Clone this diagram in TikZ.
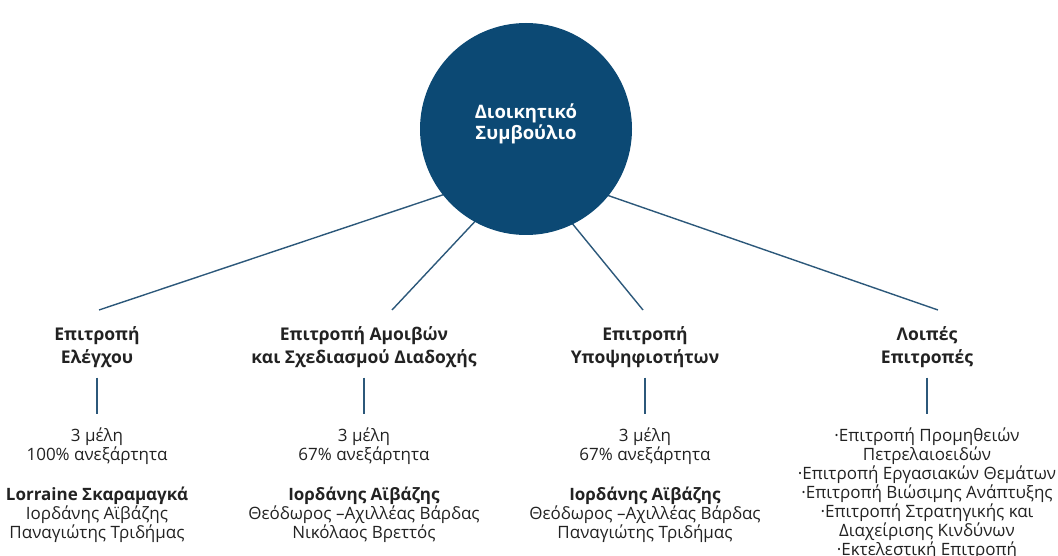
\documentclass[tikz,border=0pt]{standalone}
\usepackage{fontspec}
\setmainfont{Open Sans}
\usetikzlibrary{positioning}
\usetikzlibrary{backgrounds}
\definecolor{boardblue}{RGB}{12,73,116}
\definecolor{linkblue}{RGB}{44,88,122}
\definecolor{ink}{RGB}{34,34,34}

\begin{document}
\begin{tikzpicture}[x=1pt, y=-1pt,
    board/.style = {circle, fill=boardblue, minimum size=212pt, inner sep=0pt},
    boardtext/.style = {align=center, inner sep=0pt, text=white, font=\bfseries\fontsize{18.5}{21}\selectfont},
    head/.style = {align=center, inner sep=0pt, text=ink, font=\bfseries\fontsize{17.5}{22.5}\selectfont},
    body/.style = {align=center, inner sep=0pt, text=ink, font=\fontsize{17}{19}\selectfont},
    link/.style = {draw=linkblue, line width=1.4pt}]
    \useasboundingbox (0,0) rectangle (1058,556);
    \node[board](0) at (526,129) {};
    \node[boardtext](0t) at ([yshift=5pt]0.center) {Διοικητικό\\Συμβούλιο};
    \coordinate (hub) at ([yshift=-38pt]0.center);

    \node[head](h1) at (97,347) {Επιτροπή\\Ελέγχου};
    \node[head](h2) at (364,347) {Επιτροπή Αμοιβών\\και Σχεδιασμού Διαδοχής};
    \node[head](h3) at (645,347) {Επιτροπή\\Υποψηφιοτήτων};
    \node[head](h4) at (927,347) {Λοιπές\\Επιτροπές};

    \coordinate (e1) at (99,310);
    \coordinate (e2) at (392,310);
    \coordinate (e3) at (643,310);
    \coordinate (e4) at (938,310);

    \node[body](m1)[below=60pt of h1] {3 μέλη\\100\% ανεξάρτητα};
    \node[body](m2)[below=60pt of h2] {3 μέλη\\67\% ανεξάρτητα};
    \node[body](m3)[below=60pt of h3] {3 μέλη\\67\% ανεξάρτητα};
    \node[body](l4)[below=60pt of h4] {·Επιτροπή Προμηθειών\\Πετρελαιοειδών\\·Επιτροπή Εργασιακών Θεμάτων\\·Επιτροπή Βιώσιμης Ανάπτυξης\\·Επιτροπή Στρατηγικής και\\Διαχείρισης Κινδύνων\\·Εκτελεστική Επιτροπή};

    \node[body](n1)[below=22pt of m1] {\textbf{Lorraine Σκαραμαγκά}\\Ιορδάνης Αϊβάζης\\Παναγιώτης Τριδήμας};
    \node[body](n2)[below=22pt of m2] {\textbf{Ιορδάνης Αϊβάζης}\\Θεόδωρος –Αχιλλέας Βάρδας\\Νικόλαος Βρεττός};
    \node[body](n3)[below=22pt of m3] {\textbf{Ιορδάνης Αϊβάζης}\\Θεόδωρος –Αχιλλέας Βάρδας\\Παναγιώτης Τριδήμας};

    \begin{scope}[on background layer]
    \draw[link] (hub) -- (e1);
    \draw[link] (hub) -- (e2);
    \draw[link] (hub) -- (e3);
    \draw[link] (hub) -- (e4);
    \end{scope}
    \draw[link, shorten <=10pt, shorten >=14pt] (h1) -- (m1);
    \draw[link, shorten <=10pt, shorten >=14pt] (h2) -- (m2);
    \draw[link, shorten <=10pt, shorten >=14pt] (h3) -- (m3);
    \draw[link, shorten <=10pt, shorten >=14pt] (h4) -- (l4);
\end{tikzpicture}
\end{document}
